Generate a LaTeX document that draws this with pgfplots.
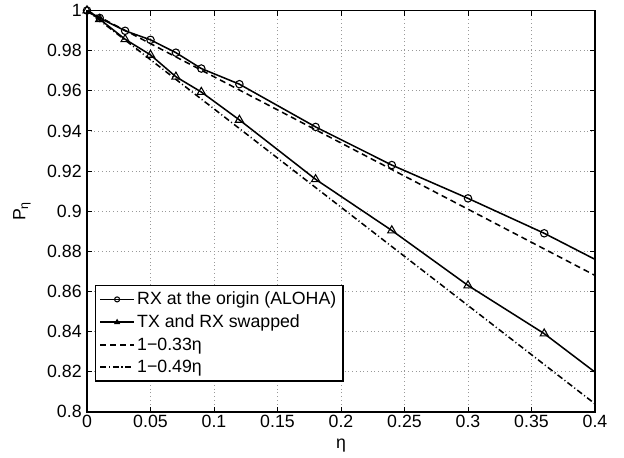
\documentclass[border=0pt]{standalone}
\usepackage{fontspec}
\setmainfont{Liberation Sans}
\usepackage{pgfplots}
\pgfplotsset{compat=1.18}
\begin{document}
\begin{tikzpicture}[font=\fontsize{13.3}{16}\selectfont]
\begin{axis}[
  name=ax, scale only axis, width=381pt, height=301pt,
  xmin=0, xmax=0.4, ymin=0.8, ymax=1,
  xtick={0,0.05,0.1,0.15,0.2,0.25,0.3,0.35,0.4},
  ytick={0.8,0.82,0.84,0.86,0.88,0.9,0.92,0.94,0.96,0.98,1},
  /pgf/number format/assume math mode=true,
  /pgf/number format/fixed, /pgf/number format/precision=2,
  tick align=inside, major tick length=3.75pt,
  tick style={black, line width=0.7pt},
  axis line style={line width=1pt},
  grid=major,
  major grid style={gray!80, line width=0.55pt, dash pattern=on 0.6pt off 2.2pt},
  xticklabel style={yshift=1pt},
  yticklabel style={xshift=-0.5pt},
  xlabel={η}, ylabel={P\textsubscript{η}},
  xlabel style={at={(axis description cs:0.5,-0.085)}, anchor=center},
  ylabel style={at={(axis description cs:-0.128,0.5)}, anchor=center},
  legend cell align=left,
  legend style={at={(axis description cs:0.0157,0.075)}, anchor=south west,
    draw=black, line width=1pt, inner xsep=3pt, inner ysep=3pt,
    row sep=2pt, font=\fontsize{13.3}{16}\selectfont},
  legend image code/.code={\draw[mark repeat=2, mark phase=2, mark size=1.9pt] plot coordinates {(0cm,0cm) (0.44cm,0cm) (0.88cm,0cm)};},
]
\addplot[black, line width=1.15pt, mark=o, mark size=2.8pt, mark options={solid, line width=0.8pt}] coordinates {
 (0,1) (0.01,0.9963) (0.03,0.9899) (0.05,0.9854) (0.07,0.979) (0.09,0.9711)
 (0.12,0.9633) (0.18,0.942) (0.24,0.923) (0.30,0.9064) (0.36,0.889)};
\addlegendentry{RX at the origin (ALOHA)}
\addplot[black, line width=1.15pt, mark=triangle, mark size=3.5pt, mark options={solid, line width=0.8pt}] coordinates {
 (0,1) (0.01,0.9957) (0.03,0.9857) (0.05,0.9779) (0.07,0.967) (0.09,0.9594)
 (0.12,0.9455) (0.18,0.9159) (0.24,0.8904) (0.30,0.863) (0.36,0.839)};
\addlegendentry{TX and RX swapped}
\addplot[black, line width=1.15pt, dash pattern=on 4.5pt off 3pt] coordinates {(0,1) (0.4,0.868)};
\addlegendentry{1−0.33η}
\addplot[black, line width=1.15pt, dash pattern=on 4.5pt off 2pt on 0.8pt off 2pt] coordinates {(0,1) (0.4,0.804)};
\addlegendentry{1−0.49η}
\addplot[black, line width=1.15pt, forget plot] coordinates {(0.36,0.889) (0.4,0.876)};
\addplot[black, line width=1.15pt, forget plot] coordinates {(0.36,0.839) (0.4,0.8198)};
\end{axis}
\path ([shift={(-65.25pt,-34.5pt)}]ax.south west) rectangle ([shift={(21.75pt,6pt)}]ax.north east);
\end{tikzpicture}
\end{document}
